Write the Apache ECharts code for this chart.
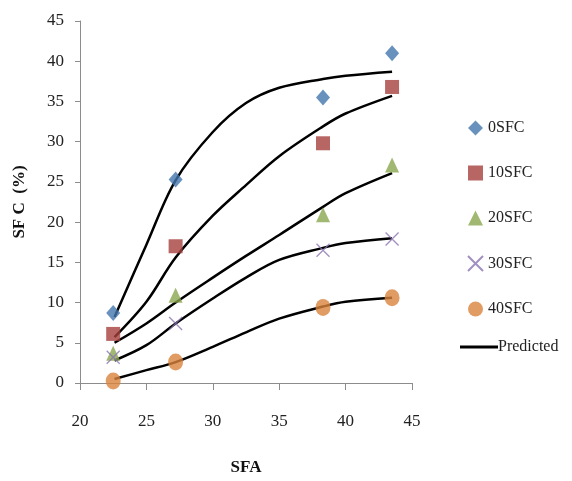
<!DOCTYPE html>
<html>
<head>
<meta charset="utf-8">
<script src="https://cdn.jsdelivr.net/npm/echarts@6/dist/echarts.min.js"></script>
<style>
  html, body { margin: 0; padding: 0; background: #fff; }
  #chart { width: 572px; height: 481px; }
</style>
</head>
<body>
<div id="chart"></div>
<script>
// SFA values (x) of the measurements
const sfa = [22.5, 27.2, 38.3, 43.5];

// measured SFC
const sfc0 = [8.7, 25.3, 35.5, 41.0];
const sfc10 = [6.1, 17.0, 29.8, 36.8];
const sfc20 = [3.7, 10.9, 20.9, 27.1];
const sfc30 = [3.2, 7.4, 16.5, 17.9];
const sfc40 = [0.25, 2.6, 9.4, 10.6];

// predicted curves
const predX = [22.6, 25, 27.2, 30, 32.5, 35, 38.3, 40, 43.5];
const pred0 = [8.2, 17.2, 25.2, 31.2, 34.8, 36.7, 37.8, 38.2, 38.7];
const pred10 = [5.7, 10.1, 15.6, 20.8, 24.6, 28.2, 31.9, 33.5, 35.7];
const pred20 = [5.0, 7.4, 10.0, 13.1, 15.8, 18.4, 21.9, 23.6, 26.1];
const pred30 = [2.8, 4.7, 7.4, 10.5, 13.1, 15.3, 16.8, 17.4, 18.0];
const pred40 = [0.5, 1.6, 2.6, 4.5, 6.3, 8.0, 9.5, 10.1, 10.6];

const names = ['0SFC', '10SFC', '20SFC', '30SFC', '40SFC'];
const yTicks = [0, 45, 5];
const xTicks = [20, 45, 5];

const font = '"Liberation Serif", "Times New Roman", serif';

function pts(xs, ys) {
  return xs.map((x, i) => [x, ys[i]]);
}

const measured = [sfc0, sfc10, sfc20, sfc30, sfc40];
const predicted = [pred0, pred10, pred20, pred30, pred40];

const markers = [
  { symbol: 'diamond', size: [14, 16], style: { color: '#4475ad' } },
  { symbol: 'rect', size: 14, style: { color: '#a5403d' } },
  { symbol: 'triangle', size: [14, 15], style: { color: '#8aa64f' } },
  { symbol: 'path://M0,0L10,10M10,0L0,10', size: 13,
    style: { color: 'rgba(0,0,0,0)', borderColor: '#8a74b2', borderWidth: 1.3 } },
  { symbol: 'circle', size: [15, 17], style: { color: '#d9833d' } }
];

const series = [];
predicted.forEach((p) => {
  series.push({
    name: 'Predicted',
    type: 'line',
    data: pts(predX, p),
    smooth: 0.35,
    symbol: 'none',
    itemStyle: { color: '#000' },
    lineStyle: { color: '#000', width: 2.5 },
    z: 2
  });
});
measured.forEach((m, i) => {
  series.push({
    name: names[i],
    type: 'scatter',
    data: pts(sfa, m),
    symbol: markers[i].symbol,
    symbolSize: markers[i].size,
    itemStyle: markers[i].style,
    z: 3
  });
});

const chart = echarts.init(document.getElementById('chart'));
chart.setOption({
  animation: false,
  backgroundColor: '#fff',
  grid: { left: 80, right: 160, top: 21, bottom: 98 },
  legend: [
    {
      data: names,
      orient: 'vertical',
      left: 462,
      top: 115,
      itemWidth: 15,
      itemHeight: 15,
      itemGap: 29,
      textStyle: { fontFamily: font, fontSize: 16, color: '#222' }
    },
    {
      data: [{ name: 'Predicted', icon: 'rect' }],
      orient: 'vertical',
      left: 455,
      top: 334,
      itemWidth: 38,
      itemHeight: 3,
      textStyle: { fontFamily: font, fontSize: 16, color: '#222', padding: [0, 0, 0, -5] }
    }
  ],
  xAxis: {
    type: 'value',
    min: xTicks[0],
    max: xTicks[1],
    interval: xTicks[2],
    name: 'SFA',
    nameLocation: 'middle',
    nameGap: 76,
    nameTextStyle: { fontFamily: font, fontSize: 17, fontWeight: 'bold', color: '#111' },
    splitLine: { show: false },
    axisLine: { lineStyle: { color: '#8c8c8c' } },
    axisTick: { length: 7, lineStyle: { color: '#8c8c8c' } },
    axisLabel: { margin: 30, fontFamily: font, fontSize: 17, color: '#222' }
  },
  yAxis: {
    type: 'value',
    min: yTicks[0],
    max: yTicks[1],
    interval: yTicks[2],
    name: 'SF C  (%)',
    nameLocation: 'middle',
    nameGap: 52,
    nameRotate: 90,
    nameTextStyle: { fontFamily: font, fontSize: 17, fontWeight: 'bold', color: '#111' },
    splitLine: { show: false },
    axisLine: { show: true, lineStyle: { color: '#8c8c8c' } },
    axisTick: { show: true, length: 5, lineStyle: { color: '#8c8c8c' } },
    axisLabel: { margin: 16, fontFamily: font, fontSize: 17, color: '#222' }
  },
  series: series
});
</script>
</body>
</html>
